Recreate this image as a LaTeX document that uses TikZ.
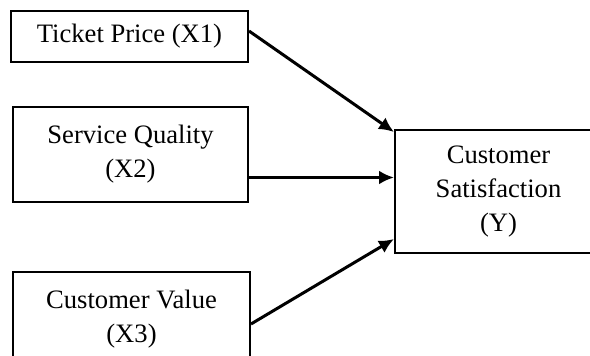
\documentclass[tikz,border=0pt]{standalone}
\usepackage{fontspec}
\setmainfont{Liberation Serif}
\usetikzlibrary{arrows.meta}

\begin{document}
\begin{tikzpicture}[
        x=1pt, y=1pt,
        every node/.style={font=\fontsize{26.6pt}{34pt}\selectfont, align=center},
        varbox/.style={rectangle, draw=black, line width=2pt, inner sep=0pt},
        effect/.style={draw, line width=3pt, -{Latex[length=15pt, width=14pt]}}
        ]
        \clip (0,0) rectangle (590,-356); % the page cuts the last boxes
        \node [varbox, minimum width=237pt, minimum height=51pt] (price) at (129.5,-36.5) {Ticket Price (X1)};
        \node [varbox, minimum width=235pt, minimum height=95pt] (quality) at (130.5,-154.5) {Service Quality\\(X2)};
        \node [varbox, minimum width=237pt, minimum height=95pt] (value) at (131.5,-319.5) {Customer Value\\(X3)};
        \node [varbox, minimum width=207pt, minimum height=123pt] (satisf) at (498.5,-191.5) {Customer\\Satisfaction\\(Y)};

        \draw[effect] ([yshift=5.5pt]price.east) -- ([yshift=-3pt]satisf.north west);
        \draw[effect] ([yshift=-23pt]quality.east) -- ([yshift=-23pt]quality.east -| satisf.west);
        \draw[effect] ([yshift=-4.5pt]value.east) -- ([yshift=15pt]satisf.south west);
    \end{tikzpicture}
\end{document}
